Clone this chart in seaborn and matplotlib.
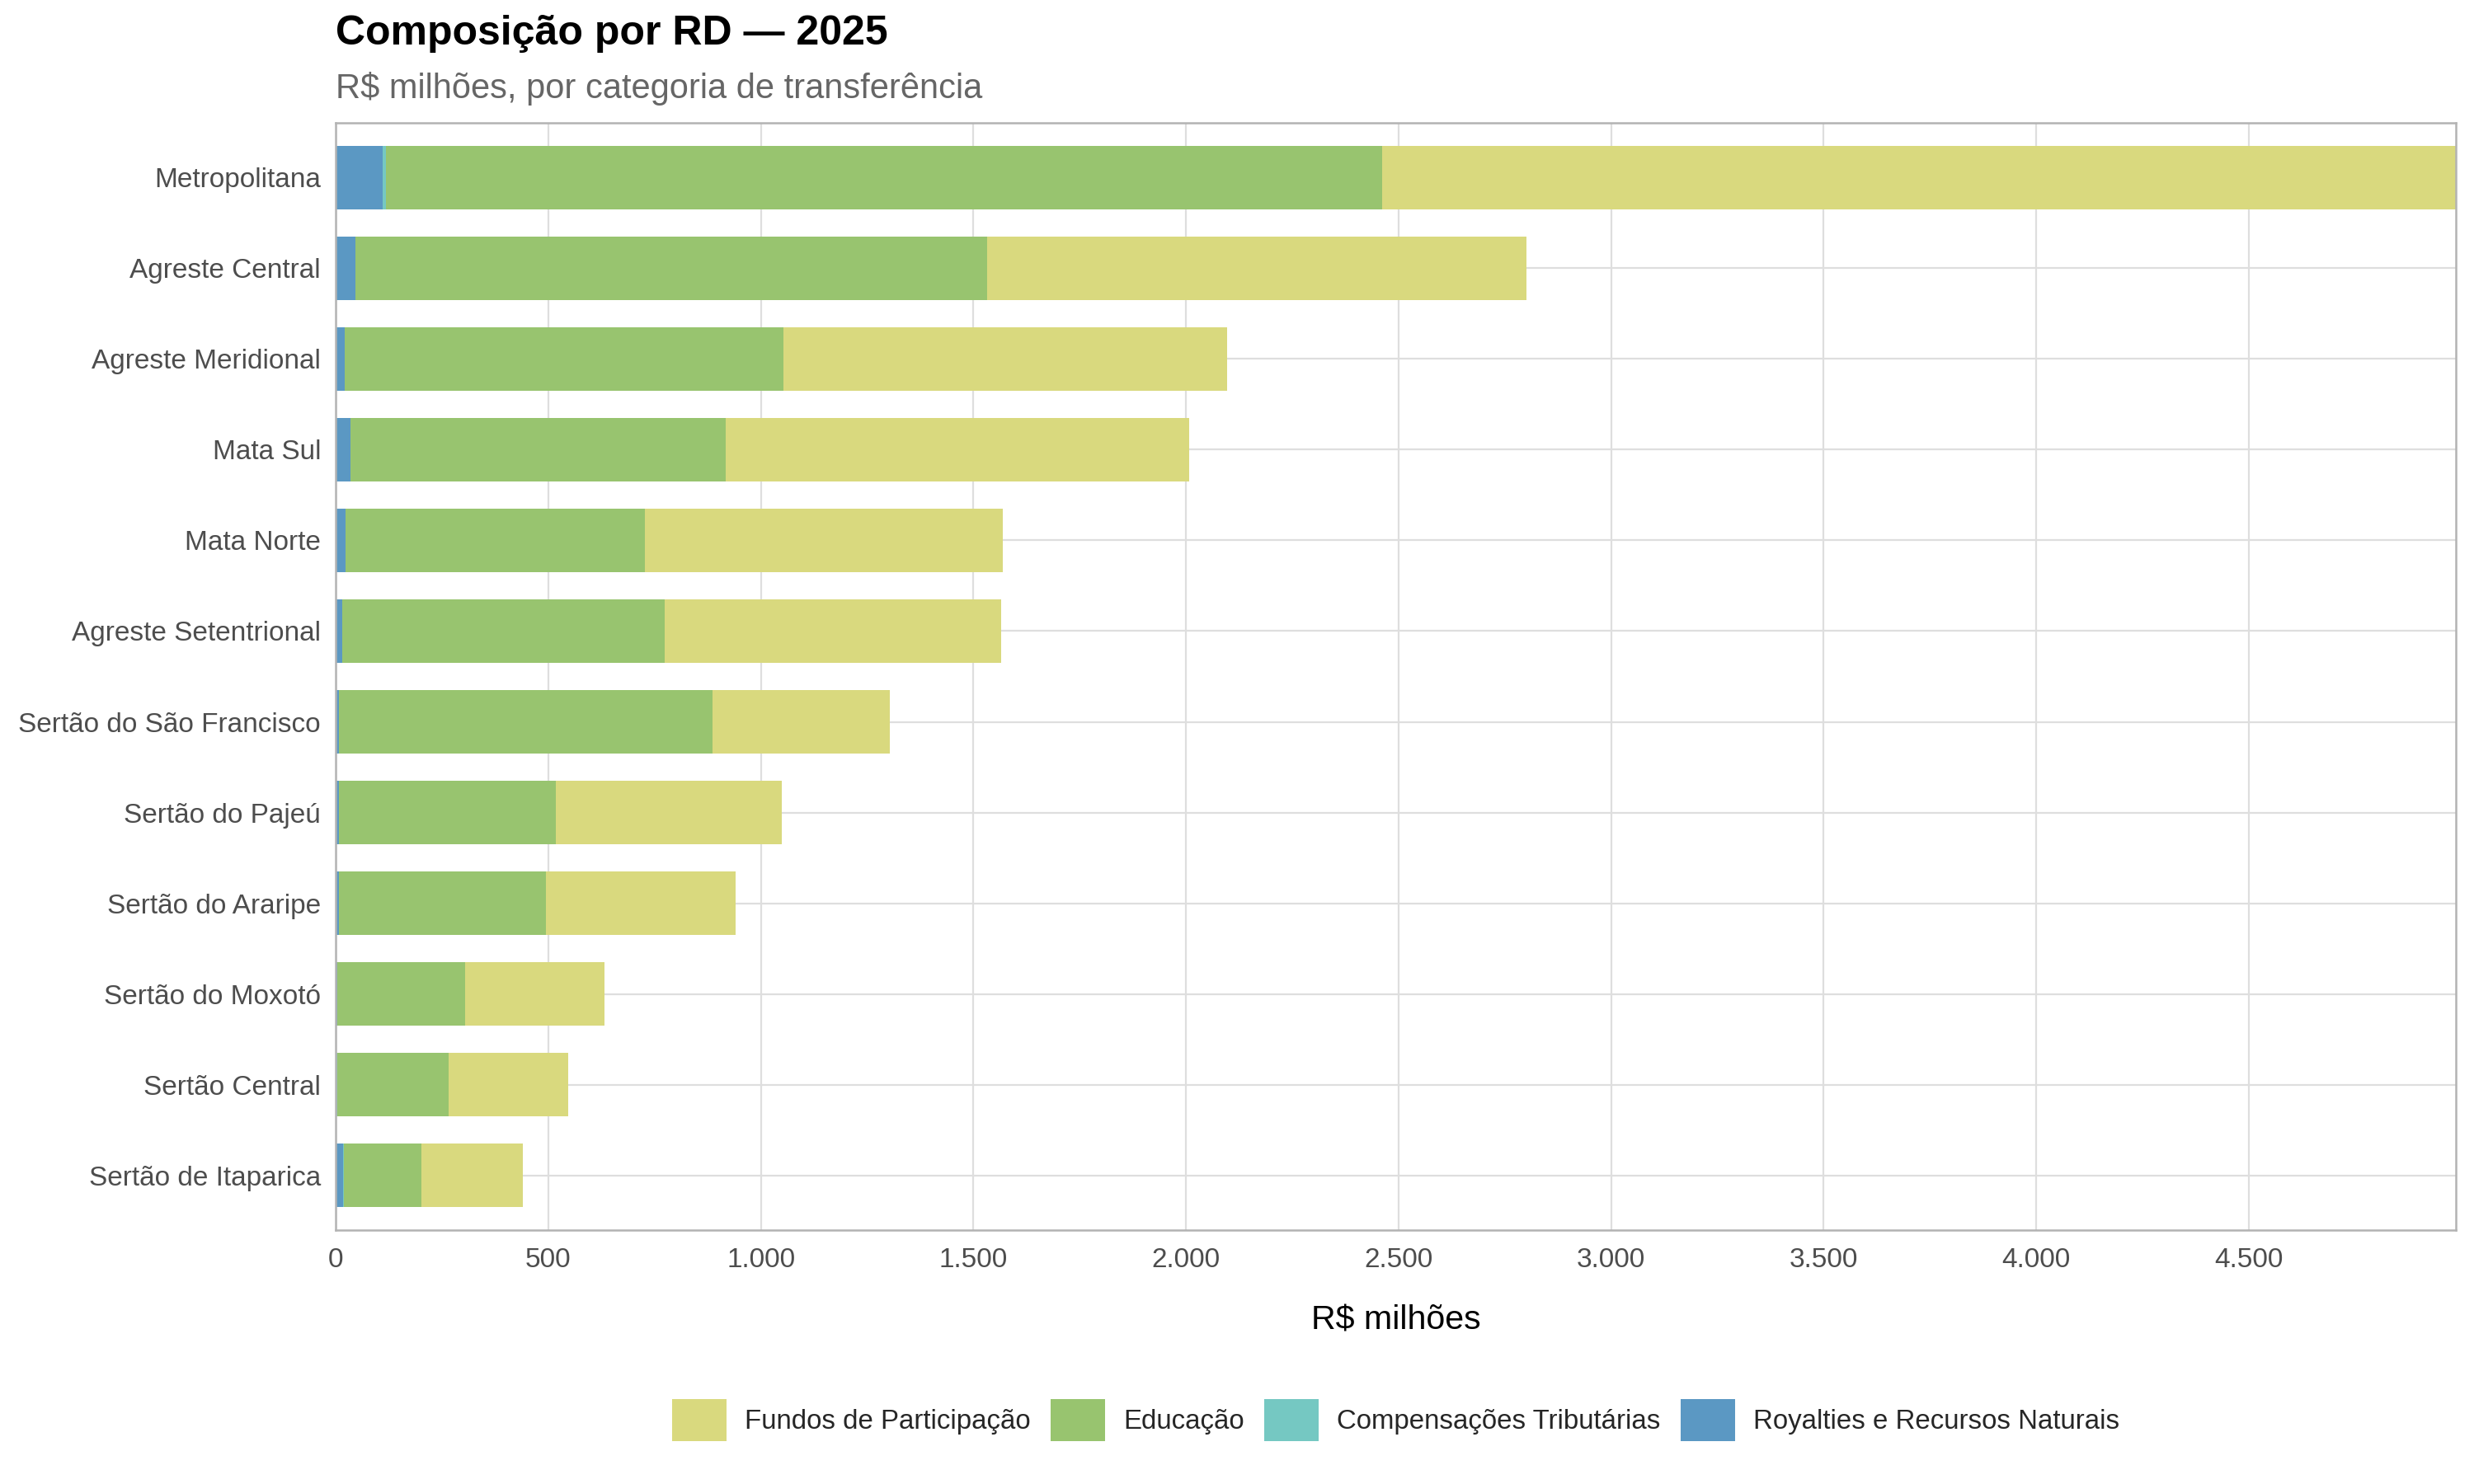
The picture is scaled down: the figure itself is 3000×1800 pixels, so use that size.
# stacked composition of transfers by RD, 2025

import matplotlib
matplotlib.use('Agg')
import matplotlib.pyplot as plt
from matplotlib.patches import Patch
from matplotlib.ticker import FuncFormatter, MultipleLocator
import seaborn as sns
import numpy as np
import pandas as pd

regioes = ['Metropolitana', 'Agreste Central', 'Agreste Meridional', 'Mata Sul',
           'Mata Norte', 'Agreste Setentrional', 'Sertão do São Francisco',
           'Sertão do Pajeú', 'Sertão do Araripe', 'Sertão do Moxotó',
           'Sertão Central', 'Sertão de Itaparica']

# R$ milhoes
royalties = [111, 47, 21, 34, 24, 16, 7, 8, 8, 3, 1, 18]
compensacoes = [8, 0, 0, 1, 0, 0, 0, 0, 0, 1, 2, 2]
educacao = [2342, 1486, 1033, 882, 704, 757, 879, 510, 486, 301, 262, 182]
fundos = [2526, 1268, 1043, 1091, 842, 793, 417, 531, 446, 327, 281, 239]

categorias = ['Fundos de Participação', 'Educação', 'Compensações Tributárias',
              'Royalties e Recursos Naturais']
cores = ['#D9D97E', '#98C46F', '#75C8C2', '#5B98C3']

df = pd.DataFrame({'regiao': regioes,
                   'Royalties e Recursos Naturais': royalties,
                   'Compensações Tributárias': compensacoes,
                   'Educação': educacao,
                   'Fundos de Participação': fundos})

# cumulative sums, left to right: royalties, compensacoes, educacao, fundos
ordem = ['Royalties e Recursos Naturais', 'Compensações Tributárias',
         'Educação', 'Fundos de Participação']
cum = df[ordem].cumsum(axis=1)
cum['regiao'] = df['regiao']

sns.set_style('white')
plt.rcParams['font.family'] = ['Liberation Sans', 'DejaVu Sans']

fig = plt.figure(figsize=(15, 9), dpi=200)
ax = fig.add_axes([0.1357, 0.1711, 0.9927 - 0.1357, 0.9172 - 0.1711])

# draw the widest (total) first and overlay the shorter cumulative bars
for cat in ordem[::-1]:
    sns.barplot(data=cum, x=cat, y='regiao', orient='h', order=regioes,
                color=cores[categorias.index(cat)], width=0.7, linewidth=0,
                saturation=1, ax=ax, zorder=2)

total_max = cum['Fundos de Participação'].max()
ax.set_xlim(0, total_max)
ax.set_ylim(len(regioes) - 0.4, -0.6)

ax.xaxis.set_major_locator(MultipleLocator(500))
ax.xaxis.set_major_formatter(FuncFormatter(lambda v, p: f'{int(v):,}'.replace(',', '.')))

ax.grid(True, color='#DEDEDE', linewidth=0.8, zorder=0)
ax.set_axisbelow(True)
for s in ax.spines.values():
    s.set_color('#B3B3B3')
    s.set_linewidth(0.9)

ax.tick_params(axis='both', colors='#B3B3B3', length=3.5, width=0.8,
               labelcolor='#4D4D4D', labelsize=12)
ax.tick_params(axis='y', pad=3)
ax.tick_params(axis='x', pad=4)

ax.set_ylabel('')
ax.set_xlabel('')
fig.text(0.5642, 0.1105, 'R$ milhões', ha='center', va='center', fontsize=14.8, color='black')

fig.text(0.1357, 0.9775, 'Composição por RD — 2025', ha='left', va='center',
         fontsize=18, fontweight='bold', color='black')
fig.text(0.1357, 0.9405, 'R$ milhões, por categoria de transferência', ha='left',
         va='center', fontsize=15, color='#666666')

handles = [Patch(facecolor=c, edgecolor='none', label=l) for l, c in zip(categorias, cores)]
fig.legend(handles=handles, loc='center', bbox_to_anchor=(0.5642, 0.0433), ncol=4,
           frameon=False, fontsize=11.9, handlelength=2.0, handleheight=2.0,
           handletextpad=0.65, columnspacing=0.75)

fig.savefig('out.png', dpi=200)
